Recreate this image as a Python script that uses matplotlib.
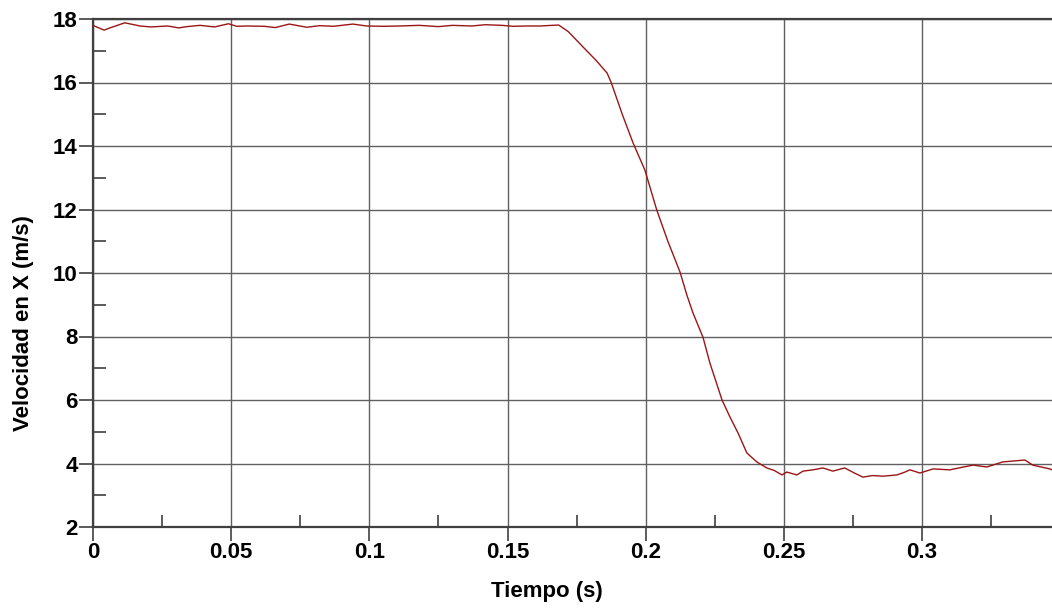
import numpy as np
import matplotlib
matplotlib.use("Agg")
import matplotlib.pyplot as plt
from matplotlib.ticker import MultipleLocator, FuncFormatter

# Datos: tiempo (s) y velocidad en X (m/s)
tiempo = [0.0005, 0.004, 0.0068, 0.0115, 0.017, 0.021, 0.027, 0.031, 0.034, 0.0387,
          0.044, 0.049, 0.052, 0.0557, 0.062, 0.066, 0.071, 0.0774, 0.082, 0.087,
          0.094, 0.099, 0.105, 0.111, 0.118, 0.125, 0.130, 0.137, 0.142, 0.148,
          0.152, 0.157, 0.162, 0.166, 0.1685,
          0.172, 0.1773, 0.182, 0.186, 0.1875, 0.1915, 0.1954, 0.1997, 0.204, 0.208,
          0.2124, 0.2149, 0.2171, 0.2207, 0.2232, 0.2276, 0.2305, 0.2334, 0.2366, 0.2402,
          0.2438, 0.2465, 0.2493, 0.251, 0.2547, 0.2569, 0.2605, 0.2641, 0.2677, 0.272,
          0.2755, 0.2786, 0.282, 0.2858, 0.2909, 0.2935, 0.2956, 0.2992, 0.304, 0.310,
          0.3184, 0.3234, 0.3292, 0.3372, 0.340, 0.3462, 0.347]
velocidad = [17.78, 17.65, 17.74, 17.88, 17.78, 17.75, 17.78, 17.72, 17.76, 17.80,
             17.75, 17.85, 17.77, 17.78, 17.77, 17.73, 17.84, 17.74, 17.79, 17.77,
             17.84, 17.78, 17.77, 17.78, 17.80, 17.76, 17.80, 17.78, 17.82, 17.80,
             17.77, 17.78, 17.78, 17.80, 17.81,
             17.60, 17.12, 16.70, 16.30, 16.00, 15.00, 14.10, 13.24, 11.98, 11.00,
             10.03, 9.30, 8.74, 7.98, 7.17, 6.00, 5.46, 4.96, 4.33, 4.05,
             3.86, 3.78, 3.64, 3.73, 3.64, 3.76, 3.80, 3.86, 3.76, 3.86,
             3.70, 3.57, 3.62, 3.60, 3.64, 3.72, 3.80, 3.70, 3.83, 3.80,
             3.95, 3.89, 4.05, 4.11, 3.95, 3.83, 3.80]

plt.rcParams['font.family'] = ['Liberation Sans', 'DejaVu Sans']

fig = plt.figure(figsize=(10.52, 6.08), dpi=100)
ax = fig.add_axes([93 / 1052, 81 / 608, 959 / 1052, 508 / 608])

ax.plot(tiempo, velocidad, color='#9a1515', lw=1.0, zorder=3)

ax.set_xlim(0, 0.347)
ax.set_ylim(2, 18)

ax.xaxis.set_major_locator(MultipleLocator(0.05))
ax.xaxis.set_minor_locator(MultipleLocator(0.025))
ax.yaxis.set_major_locator(MultipleLocator(2))
ax.yaxis.set_minor_locator(MultipleLocator(1))
ax.xaxis.set_major_formatter(FuncFormatter(lambda v, p: f"{v:g}"))

ax.grid(True, which='major', color='#606060', lw=1.0)
ax.tick_params(which='major', direction='out', length=10, width=1.2, color='#404040',
               labelsize=16, pad=1)
ax.tick_params(which='minor', direction='in', length=9, width=1.2, color='#404040')
for lab in ax.get_xticklabels() + ax.get_yticklabels():
    lab.set_fontweight('bold')

ax.spines['right'].set_visible(False)
for s in ['left', 'bottom', 'top']:
    ax.spines[s].set_color('#404040')
    ax.spines[s].set_linewidth(1.6)

ax.set_xlabel('Tiempo (s)', fontsize=16, fontweight='bold')
ax.set_ylabel('Velocidad en X (m/s)', fontsize=16, fontweight='bold')
ax.xaxis.set_label_coords((547 - 93) / 959, -(591 - 527) / 508)
ax.yaxis.set_label_coords(-(93 - 24) / 959, (527 - 323) / 508)
ax.xaxis.label.set_va('center')
ax.yaxis.label.set_va('center')

fig.savefig('out.png', dpi=100)
